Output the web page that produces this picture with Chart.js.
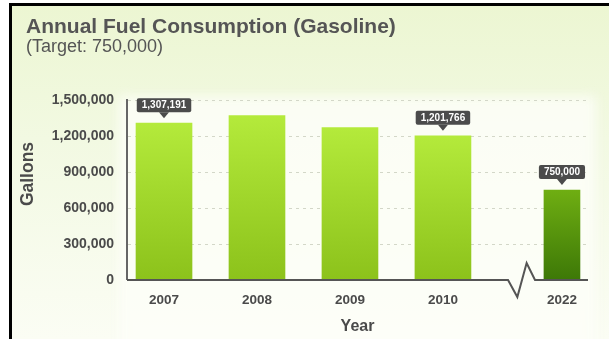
<!DOCTYPE html>
<html>
<head>
<meta charset="utf-8">
<title>Annual Fuel Consumption (Gasoline)</title>
<script src="https://cdn.jsdelivr.net/npm/chart.js@4/dist/chart.umd.min.js"></script>
<style>
  html, body { margin: 0; padding: 0; background: #fff; }
  #wrap { position: relative; width: 609px; height: 339px; }
  canvas { display: block; }
</style>
</head>
<body>
<div id="wrap"><canvas id="fuel" width="609" height="339"></canvas></div>
<script>
// ---- data ----
const years = ['2007', '2008', '2009', '2010', '2022'];
const gallons = [1307191, 1370000, 1270000, 1201766, 750000];
const showValue = [true, false, false, true, true];
const yTicks = [0, 300000, 600000, 900000, 1200000, 1500000];
const targetYear = '2022';
const target = 750000;

const titleText = 'Annual Fuel Consumption (Gasoline)';
const subtitleText = '(Target: ' + target.toLocaleString('en-US') + ')';

// ---- look ----
const fontFamily = "'Liberation Sans', Arial, Helvetica, sans-serif";
const textColor = '#4a4a4a';
const fmt = v => v.toLocaleString('en-US');

// the target year sits a little further out, past the axis break
const BREAK_GAP = 0.28;
const slot = i => (years[i] === targetYear ? i + BREAK_GAP : i);
const points = years.map((y, i) => ({ x: slot(i), y: gallons[i], idx: i }));
const history = points.filter(p => years[p.idx] !== targetYear);
const goal = points.filter(p => years[p.idx] === targetYear);

function barFill(top, bottom) {
  return ctx => {
    const chart = ctx.chart;
    if (!chart.chartArea || !ctx.raw) return bottom;
    const ys = chart.scales.y;
    const y0 = ys.getPixelForValue(ctx.raw.y);
    const y1 = ys.getPixelForValue(0);
    if (!isFinite(y0) || !isFinite(y1)) return bottom;
    const g = chart.ctx.createLinearGradient(0, y0, 0, y1);
    g.addColorStop(0, top);
    g.addColorStop(1, bottom);
    return g;
  };
}

// background, frame lines, heading and the vertical axis title
const framePlugin = {
  id: 'frame',
  beforeDraw(chart) {
    const { ctx, width, height, chartArea } = chart;
    ctx.save();
    ctx.fillStyle = '#fff';
    ctx.fillRect(0, 0, width, height);
    const bg = ctx.createLinearGradient(0, 6, 0, height);
    bg.addColorStop(0, '#ecf6d2');
    bg.addColorStop(0.4, '#f2f9e2');
    bg.addColorStop(1, '#fbfdf4');
    ctx.fillStyle = bg;
    ctx.fillRect(12, 6, width - 12, height - 6);

    // pale panel behind the plot
    ctx.filter = 'blur(6px)';
    ctx.fillStyle = 'rgba(253,254,248,0.85)';
    ctx.fillRect(chartArea.left - 8, chartArea.top - 4,
      chartArea.right - chartArea.left + 16, height);
    ctx.filter = 'none';

    ctx.fillStyle = '#000';
    ctx.fillRect(9, 3, 3, height - 3);
    ctx.fillRect(9, 3, width - 9, 3);

    ctx.fillStyle = '#555';
    ctx.textAlign = 'left';
    ctx.textBaseline = 'alphabetic';
    ctx.font = 'bold 21px ' + fontFamily;
    ctx.fillText(titleText, 26, 33);
    ctx.font = '18px ' + fontFamily;
    ctx.fillText(subtitleText, 26, 52);

    ctx.translate(33, 174);
    ctx.rotate(-Math.PI / 2);
    ctx.textAlign = 'center';
    ctx.fillStyle = textColor;
    ctx.font = 'bold 17.5px ' + fontFamily;
    ctx.fillText('Gallons', 0, 0);
    ctx.restore();
  }
};

// x axis line with a zigzag break before the target year
const axisBreakPlugin = {
  id: 'axisBreak',
  afterDatasetsDraw(chart) {
    const { ctx, chartArea, scales: { x, y } } = chart;
    const y0 = y.getPixelForValue(0);
    const amp = 17;
    const zig = [[3.70, 0], [3.80, 1], [3.90, -1], [3.99, 0]];
    ctx.save();
    ctx.strokeStyle = '#555';
    ctx.lineWidth = 2;
    ctx.lineJoin = 'miter';
    ctx.beginPath();
    ctx.moveTo(chartArea.left, y0);
    zig.forEach(([v, d]) => ctx.lineTo(x.getPixelForValue(v), y0 + d * amp));
    ctx.lineTo(chartArea.right, y0);
    ctx.stroke();
    ctx.restore();
  }
};

// dark callouts with the bar value
const calloutPlugin = {
  id: 'callouts',
  afterDatasetsDraw(chart) {
    const { ctx } = chart;
    chart.data.datasets.forEach((ds, di) => {
      const meta = chart.getDatasetMeta(di);
      meta.data.forEach((bar, j) => {
        const p = ds.data[j];
        if (!showValue[p.idx]) return;
        const text = fmt(gallons[p.idx]);
        ctx.save();
        ctx.font = 'bold 10px ' + fontFamily;
        const w = ctx.measureText(text).width + 10;
        const h = 14;
        const tip = bar.y - 5;
        const bottom = bar.y - 11;
        const top = bottom - h;
        const left = bar.x - w / 2;
        ctx.fillStyle = '#4b4b4b';
        ctx.beginPath();
        if (ctx.roundRect) ctx.roundRect(left, top, w, h, 2);
        else ctx.rect(left, top, w, h);
        ctx.fill();
        ctx.beginPath();
        ctx.moveTo(bar.x - 5, bottom);
        ctx.lineTo(bar.x + 5, bottom);
        ctx.lineTo(bar.x, tip);
        ctx.closePath();
        ctx.fill();
        ctx.fillStyle = '#fff';
        ctx.textAlign = 'center';
        ctx.textBaseline = 'middle';
        ctx.fillText(text, bar.x, top + h / 2 + 0.5);
        ctx.restore();
      });
    });
  }
};

new Chart(document.getElementById('fuel'), {
  type: 'bar',
  data: {
    datasets: [
      {
        label: 'Gallons',
        data: history,
        grouped: false,
        barThickness: 56,
        borderWidth: 0,
        backgroundColor: barFill('#b4ea3b', '#8cc21b')
      },
      {
        label: 'Target',
        data: goal,
        grouped: false,
        barThickness: 36,
        borderWidth: 0,
        backgroundColor: barFill('#6fae12', '#3d7807')
      }
    ]
  },
  options: {
    responsive: false,
    animation: false,
    devicePixelRatio: 1,
    layout: { padding: { top: 100, right: 21, bottom: 0, left: 0 } },
    plugins: {
      legend: { display: false },
      tooltip: { enabled: false },
      title: { display: false }
    },
    scales: {
      x: {
        type: 'linear',
        min: -0.398,
        max: 4.56,
        offset: false,
        grid: { display: false },
        border: { display: false },
        afterBuildTicks: s => { s.ticks = years.map((y, i) => ({ value: slot(i) })); },
        afterFit: s => { s.height = 59; },
        ticks: {
          autoSkip: false,
          maxRotation: 0,
          padding: 4,
          color: textColor,
          font: { family: fontFamily, size: 13.5, weight: 'bold' },
          callback: (v, i) => years[i]
        },
        title: {
          display: true,
          text: 'Year',
          color: textColor,
          padding: { top: 0, bottom: 3 },
          font: { family: fontFamily, size: 16, weight: 'bold' }
        }
      },
      y: {
        min: 0,
        max: 1500000,
        afterBuildTicks: s => { s.ticks = yTicks.map(v => ({ value: v })); },
        afterFit: s => { s.width = 127; },
        grid: {
          drawTicks: false,
          color: '#d3d7c8',
          lineWidth: c => (c.tick && c.tick.value === 0 ? 0 : 1)
        },
        border: { display: true, color: '#666', width: 2, dash: [3, 4] },
        ticks: {
          padding: 13,
          color: textColor,
          font: { family: fontFamily, size: 14, weight: 'bold' },
          callback: v => fmt(v)
        }
      }
    }
  },
  plugins: [framePlugin, axisBreakPlugin, calloutPlugin]
});
</script>
</body>
</html>
